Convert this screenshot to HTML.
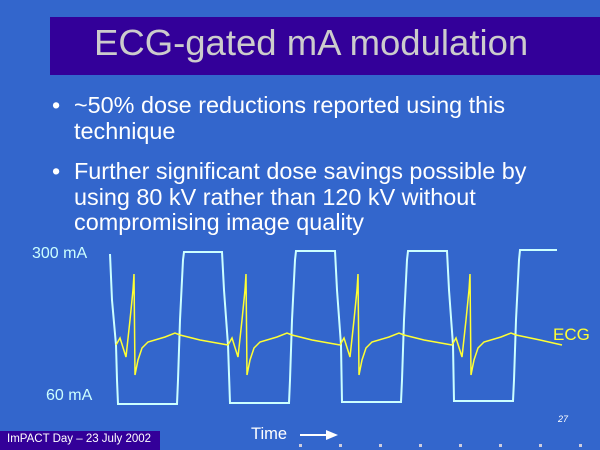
<!DOCTYPE html>
<html><head><meta charset="utf-8"><style>
html,body{margin:0;padding:0}
body{width:600px;height:450px;background:#3366cc;position:relative;overflow:hidden;font-family:"Liberation Sans",sans-serif}
.t{position:absolute;white-space:nowrap}
</style></head><body>
<div style="position:absolute;left:50px;top:17px;width:550px;height:58px;background:#330099"></div>
<div class="t" style="left:94px;top:22px;font-size:36.5px;line-height:42px;color:#cccccc">ECG-gated mA modulation</div>
<div class="t" style="left:52px;top:92px;font-size:23.4px;line-height:26px;color:#fff">•</div>
<div class="t" style="left:74px;top:92px;font-size:23.4px;line-height:26px;color:#fff">~50% dose reductions reported using this<br>technique</div>
<div class="t" style="left:52px;top:159px;font-size:23.4px;line-height:25.5px;color:#fff">•</div>
<div class="t" style="left:74px;top:159px;font-size:23.4px;line-height:25.5px;color:#fff">Further significant dose savings possible by<br>using 80 kV rather than 120 kV without<br>compromising image quality</div>
<div class="t" style="left:32px;top:245px;font-size:16px;color:#ccffff">300 mA</div>
<div class="t" style="left:46px;top:387px;font-size:16px;color:#ccffff">60 mA</div>
<div class="t" style="left:553px;top:325px;font-size:17px;color:#ffff33">ECG</div>
<div class="t" style="left:558px;top:414px;font-size:9px;font-style:italic;color:#fff">27</div>
<div class="t" style="left:251px;top:425px;font-size:16.5px;color:#fff">Time</div>
<div style="position:absolute;left:0;top:431px;width:160px;height:19px;background:#330099"></div>
<div class="t" style="left:7px;top:433px;font-size:11.5px;color:#fff">ImPACT Day – 23 July 2002</div>
<svg width="600" height="450" style="position:absolute;left:0;top:0">
<polyline fill="none" stroke="#ccffff" stroke-width="2" points="110,254 112,300 116,345 117,380 118,404 177,404 178,380 180,320 183,260 184,252 222,252 224,290 228,345 230,403 289,403 290,380 292,320 295,260 296,251 335,251 337,290 341,345 342,402 401,402 402,380 404,320 407,260 408,251 447,251 449,290 453,345 454,401 513,401 514,380 516,320 519,260 520,250 557,250"/>
<g fill="none" stroke="#ffff33" stroke-width="1.5">
<polyline id="b" points="116,345 120,338 126,357 130,320 133,290 134,274 135,375 138,360 142,348 148,342 165,337 175,333 180,335 200,340 228,345"/>
<use href="#b" x="112"/><use href="#b" x="224"/>
<polyline points="452,345 456,338 462,357 466,320 469,290 470,274 471,375 474,360 478,348 484,342 501,337 511,333 516,335 540,340 562,345"/>
</g>
<line x1="300" y1="435" x2="328" y2="435" stroke="#fff" stroke-width="2"/>
<polygon points="326,430 338,435 326,440" fill="#fff"/>
<g fill="#ccccdd"><rect x="299" y="444" width="3" height="3"/><rect x="339" y="444" width="3" height="3"/><rect x="379" y="444" width="3" height="3"/><rect x="419" y="444" width="3" height="3"/><rect x="459" y="444" width="3" height="3"/><rect x="499" y="444" width="3" height="3"/><rect x="539" y="444" width="3" height="3"/><rect x="579" y="444" width="3" height="3"/></g>
</svg>
</body></html>
